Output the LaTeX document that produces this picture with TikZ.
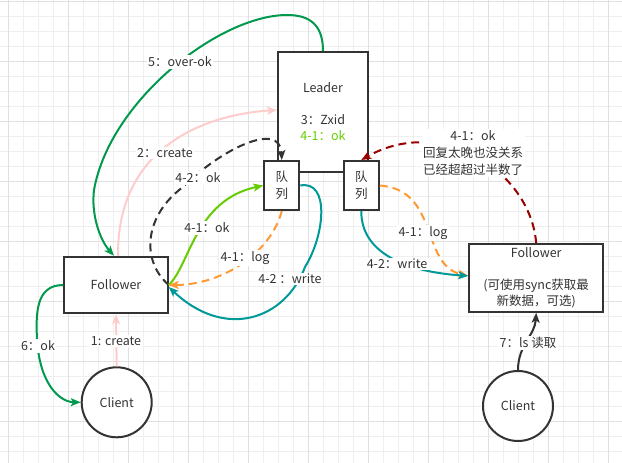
\documentclass[tikz,border=0pt]{standalone}
\usepackage{fontspec}
\setmainfont{Noto Sans CJK SC}
\usetikzlibrary{arrows.meta}
\definecolor{txt}{HTML}{333333}
\definecolor{okgreen}{HTML}{66CC00}
\definecolor{dkgreen}{HTML}{00994D}
\definecolor{pinkc}{HTML}{FFCCCC}
\definecolor{orangec}{HTML}{FF9933}
\definecolor{tealc}{HTML}{009999}
\definecolor{redc}{HTML}{990000}
\definecolor{gridminor}{HTML}{EFEFEF}
\definecolor{gridmajor}{HTML}{E0E0E0}
\begin{document}
\begin{tikzpicture}[x=1pt,y=-1pt,
  font=\fontsize{12.5pt}{16pt}\selectfont, text=txt,
  box/.style={draw=txt, line width=2pt, fill=white, align=center, inner sep=0pt},
  circ/.style={draw=txt, line width=2pt, fill=white, circle, minimum size=70pt, inner sep=0pt},
  lbl/.style={fill=white, inner sep=1.5pt, align=center},
  edge/.style={line width=2pt, -{Stealth[length=10pt,width=8pt,inset=2.5pt]}},
  dsh/.style={dash pattern=on 8pt off 5pt}
]
\useasboundingbox (0,0) rectangle (622,463);
\fill[white] (0,0) rectangle (622,463);
% grid
\foreach \i in {0,...,41} {\draw[gridminor, line width=1pt] (8.33+15*\i,0) -- (8.33+15*\i,463);}
\foreach \j in {0,...,31} {\draw[gridminor, line width=1pt] (0,1.67+15*\j) -- (622,1.67+15*\j);}
\foreach \i in {0,...,10} {\draw[gridmajor, line width=1pt] (8.33+60*\i,0) -- (8.33+60*\i,463);}
\foreach \j in {0,...,7} {\draw[gridmajor, line width=1pt] (0,1.67+60*\j) -- (622,1.67+60*\j);}

% nodes
\node[box, minimum width=90pt, minimum height=120pt] (leader) at (323,112)
  {Leader\\[16pt]3：Zxid\\\textcolor{okgreen}{4-1：ok}};
\node[box, minimum width=35pt, minimum height=49pt, font=\fontsize{12.5pt}{17pt}\selectfont] (qL) at (281.8,185.5) {队\\列};
\node[box, minimum width=35pt, minimum height=49pt, font=\fontsize{12.5pt}{17pt}\selectfont] (qR) at (361.3,185.5) {队\\列};
\node[box, minimum width=103.5pt, minimum height=56.5pt] (fL) at (116,285) {Follower};
\node[box, minimum width=134pt, minimum height=67.7pt] (fR) at (536.2,277.9)
  {Follower\\[16pt](可使用sync获取最\\新数据，可选)};
\node[circ] (cL) at (116.7,402.3) {Client};
\node[circ] (cR) at (518,406) {Client};

% edges
\draw[edge, pinkc] (cL.north) -- (fL.south);
\draw[edge, pinkc] ([xshift=2pt]fL.north) .. controls (117,150) and (200,115) .. ([yshift=2pt]leader.west);
\draw[edge, dkgreen] (leader.north) .. controls (323,25) and (310,15) .. (287,15)
  .. controls (220,15) and (110,100) .. (94,190)
  .. controls (91,215) and (100,240) .. ([xshift=-2pt]fL.north);
\draw[edge, dkgreen] (fL.west) .. controls (35,285) and (36,315) .. (37,340)
  .. controls (40,385) and (60,402) .. (cL.west);
\draw[edge, txt, dsh] (fL.east) .. controls (140,260) and (145,215) .. (183,187)
  .. controls (220,150) and (280,120) .. (qL.north);
\draw[edge, okgreen] (fL.east) .. controls (190,265) and (195,200) .. (qL.west);
\draw[edge, orangec, dsh] (qL.south) .. controls (270,255) and (220,285) .. (fL.east);
\draw[edge, tealc] (qL.east) .. controls (330,180) and (325,235) .. (305,267)
  .. controls (285,320) and (225,340) .. ([yshift=-2pt]fL.east);
\draw[edge, orangec, dsh] (qR.east) .. controls (440,190) and (420,265) .. ([yshift=2pt]fR.west);
\draw[edge, tealc] (qR.south) .. controls (361,255) and (410,272) .. ([yshift=2pt]fR.west);
\draw[edge, redc, dsh] (fR.north) .. controls (530,170) and (440,115) .. (qR.north);
\draw[edge, txt] (cR.north) .. controls (518,345) and (535,335) .. (fR.south);

% labels
\node[lbl] (l1) at (116,341) {1: create};
\node[lbl] (l2) at (165,153) {2：create};
\node[lbl] (l5) at (180,62) {5：over-ok};
\node[lbl] (l6) at (38,346) {6：ok};
\node[lbl] (l42ok) at (198,178) {4-2：ok};
\node[lbl] (l41ok) at (207,228) {4-1：ok};
\node[lbl] (l41log) at (245,258) {4-1：log};
\node[lbl] (l42w) at (290,279) {4-2 ：write};
\node[lbl] (r41log) at (423,233) {4-1：log};
\node[lbl] (r42w) at (397,264) {4-2：write};
\node[lbl, font=\fontsize{12.5pt}{16.6pt}\selectfont] (rok) at (473,153) {4-1：ok\\回复太晚也没关系\\已经超超过半数了};
\node[lbl] (l7) at (528,343) {7：ls 读取};
\end{tikzpicture}
\end{document}
